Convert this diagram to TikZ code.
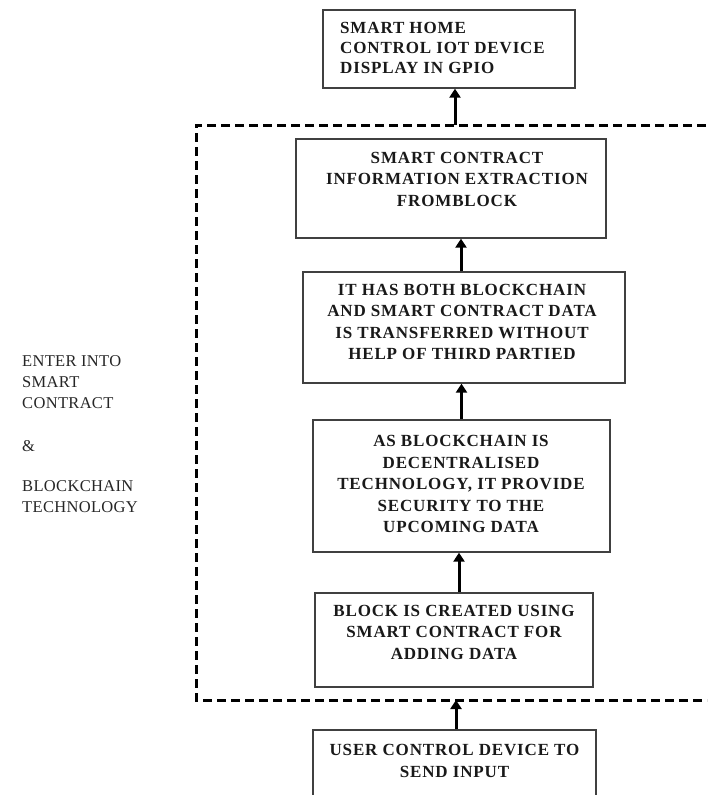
\documentclass[tikz,border=0pt]{standalone}
\usepackage{fontspec}
\setmainfont{Liberation Serif}
\usetikzlibrary{arrows.meta}
\begin{document}
\begin{tikzpicture}[x=1pt,y=-1pt,
  box/.style={draw=black!75, line width=1.3pt, rectangle, inner sep=0pt},
  txt/.style={font=\bfseries\fontsize{17}{21.5}\selectfont\addfontfeatures{LetterSpace=5}, align=center, inner sep=0pt, text=black!90},
  side/.style={font=\fontsize{16.5}{21}\selectfont\addfontfeatures{LetterSpace=2}, align=left, inner sep=0pt, anchor=north west, text=black!85},
  arr/.style={line width=3pt, -{Triangle[length=9pt,width=11pt]}},
  frameline/.style={line width=3pt, dash pattern=on 9pt off 5pt}
]
\useasboundingbox (0,0) rectangle (707,795);
\clip (0,0) rectangle (707,795);
\fill[white] (0,0) rectangle (707,795);

% top box
\node[box, minimum width=252, minimum height=78] (b1) at (449,49) {};
\node[txt, font=\bfseries\fontsize{17}{20}\selectfont\addfontfeatures{LetterSpace=5}, align=left, anchor=west] (t1) at (340,48) {SMART HOME\\CONTROL IOT DEVICE\\DISPLAY IN GPIO};

% dashed frame
\draw[frameline] (720,125) -- (196,125) -- (196,700) -- (720,700);
\coordinate (dtop) at (455,125);
\coordinate (dbot) at (456,700);

% box 2
\node[box, minimum width=310, minimum height=99] (b2) at (451,188.5) {};
\node[txt] (t2) at (457,179) {SMART CONTRACT\\INFORMATION EXTRACTION\\FROMBLOCK};

% box 3
\node[box, minimum width=322, minimum height=111] (b3) at (464,327.5) {};
\node[txt] (t3) at (462,322) {IT HAS BOTH BLOCKCHAIN\\AND SMART CONTRACT DATA\\IS TRANSFERRED WITHOUT\\HELP OF THIRD PARTIED};

% box 4
\node[box, minimum width=297, minimum height=132] (b4) at (461.5,486) {};
\node[txt] (t4) at (461,484) {AS BLOCKCHAIN IS\\DECENTRALISED\\TECHNOLOGY, IT PROVIDE\\SECURITY TO THE\\UPCOMING DATA};

% box 5
\node[box, minimum width=278, minimum height=94] (b5) at (454,640) {};
\node[txt] (t5) at (454,632) {BLOCK IS CREATED USING\\SMART CONTRACT FOR\\ADDING DATA};

% bottom box
\node[box, minimum width=283, minimum height=90] (ub) at (454.5,775) {};
\node[txt] (t6) at (454.5,761) {USER CONTROL DEVICE TO\\SEND INPUT};

% side label
\node[side] (s1) at (22,355) {ENTER INTO\\SMART\\CONTRACT\\[22pt]\&\\[19pt]BLOCKCHAIN\\TECHNOLOGY};

% arrows
\draw[arr] (dtop) -- (dtop |- b1.south);
\draw[arr] ([xshift=-3pt]b3.north) -- ([xshift=-3pt]b3.north |- b2.south);
\draw[arr] (b4.north) -- (b4.north |- b3.south);
\draw[arr] ([xshift=5pt]b5.north) -- ([xshift=5pt]b5.north |- b4.south);
\draw[arr] ([xshift=1.5pt]ub.north) -- ([xshift=1.5pt]ub.north |- dbot);
\end{tikzpicture}
\end{document}
